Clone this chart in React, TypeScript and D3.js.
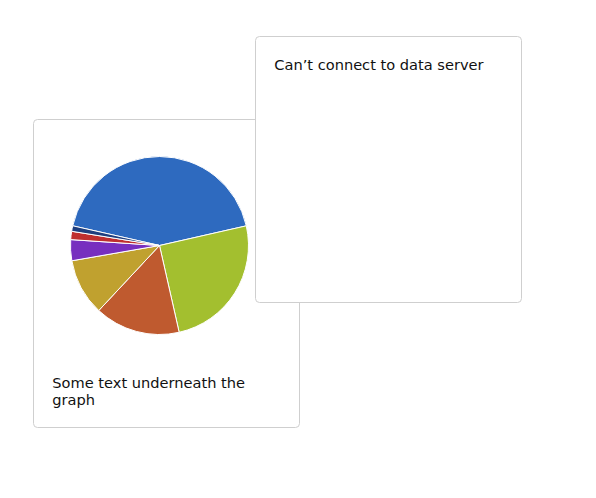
import React, { useRef, useEffect } from 'react';
import * as d3 from 'd3';

const sliceNames = ['a', 'b', 'c', 'd', 'e', 'f', 'g'];
const sliceValues = [42.9, 25.0, 15.5, 10.3, 3.8, 1.5, 1.0];
const sliceColors = ['#2e6abf', '#a3bf2f', '#bf5a2f', '#c0a12f', '#772fbf', '#bf2f2f', '#1f3f7f'];
const captionLines = ['Some text underneath the', 'graph'];
const errorText = 'Can\u2019t connect to data server';

function App() {
    const ref = useRef<SVGSVGElement>(null);

    useEffect(() => {
        const svg = d3.select(ref.current);
        svg.selectAll('*').remove();

        const font = 'DejaVu Sans, Verdana, sans-serif';
        const fontSize = 14.6;

        // first card with the pie
        const card1 = svg.append('g').attr('transform', 'translate(33.5,119.5)');
        card1.append('rect')
            .attr('width', 266).attr('height', 308)
            .attr('rx', 4)
            .attr('fill', '#fff')
            .attr('stroke', '#cfcfcf');

        const start = -77.2 * Math.PI / 180;
        const pie = d3.pie<number>()
            .sort(null)
            .startAngle(start)
            .endAngle(start + 2 * Math.PI);
        const arc = d3.arc<d3.PieArcDatum<number>>().innerRadius(0).outerRadius(89);

        const pieG = card1.append('g').attr('transform', 'translate(126,126)');
        pieG.selectAll('path')
            .data(pie(sliceValues))
            .enter().append('path')
            .attr('d', arc)
            .attr('fill', (d, i) => sliceColors[i])
            .attr('stroke', '#fff')
            .attr('stroke-width', 1)
            .append('title').text((d, i) => sliceNames[i]);

        const caption = card1.append('text')
            .attr('font-family', font)
            .attr('font-size', fontSize)
            .attr('fill', '#111');
        captionLines.forEach((line, i) => {
            caption.append('tspan')
                .attr('x', 18.8)
                .attr('y', 268.2 + i * 17.5)
                .text(line);
        });

        // second card, drawn on top
        const card2 = svg.append('g').attr('transform', 'translate(255.5,36.5)');
        card2.append('rect')
            .attr('width', 266).attr('height', 266)
            .attr('rx', 4)
            .attr('fill', '#fff')
            .attr('stroke', '#cfcfcf');
        card2.append('text')
            .attr('x', 18.8)
            .attr('y', 33.5)
            .attr('font-family', font)
            .attr('font-size', fontSize)
            .attr('fill', '#111')
            .text(errorText);
    }, []);

    return (
        <svg ref={ref} width={596} height={498}
            style={{ position: 'absolute', left: 0, top: 0, display: 'block' }} />
    );
}

export default App;
